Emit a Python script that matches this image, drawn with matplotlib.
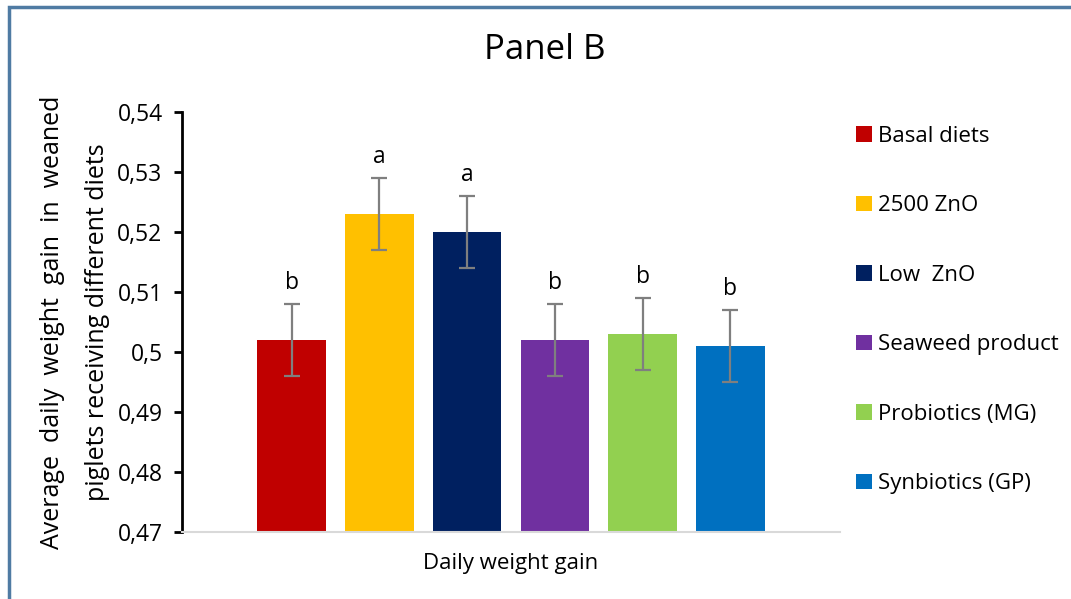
import matplotlib.pyplot as plt
from matplotlib.patches import Rectangle

plt.rcParams['font.family'] = ['Open Sans', 'DejaVu Sans']

groups = ["Basal diets", "2500 ZnO", "Low  ZnO", "Seaweed product", "Probiotics (MG)", "Synbiotics (GP)"]
means = [0.502, 0.523, 0.520, 0.502, 0.503, 0.501]
errors = [0.006, 0.006, 0.006, 0.006, 0.006, 0.006]
letters = ["b", "a", "a", "b", "b", "b"]
colors = ["#c00000", "#ffc000", "#002060", "#7030a0", "#92d050", "#0070c0"]
yticks = [0.47, 0.48, 0.49, 0.50, 0.51, 0.52, 0.53, 0.54]
ytick_labels = ["0,47", "0,48", "0,49", "0,5", "0,51", "0,52", "0,53", "0,54"]

W, H = 1071, 599
fig = plt.figure(figsize=(W / 100, H / 100), dpi=100)
ax = fig.add_axes([182 / W, 1 - 532 / H, (840 - 182) / W, (532 - 112) / H])

x = list(range(len(groups)))
bars = ax.bar(x, [m - 0.47 for m in means], bottom=0.47, width=0.78, color=colors,
              label=groups, zorder=2)
ax.errorbar(x, means, yerr=errors, fmt="none", ecolor="#7f7f7f", elinewidth=1.6,
            capsize=6, capthick=1.6, zorder=3)
for xi, m, e, t in zip(x, means, errors, letters):
    ax.text(xi, m + e + 0.0015, t, ha="center", va="bottom", fontsize=16.5)

ax.set_xlim(-1.25, 6.25)
ax.set_ylim(0.47, 0.54)
ax.set_yticks(yticks)
ax.set_yticklabels(ytick_labels, fontsize=16.5)
ax.set_xticks([])
for s in ["top", "right"]:
    ax.spines[s].set_visible(False)
ax.spines["left"].set_linewidth(2)
ax.spines["left"].set_color("black")
ax.spines["bottom"].set_color("#d9d9d9")
ax.spines["bottom"].set_linewidth(1.5)
ax.tick_params(axis="y", direction="out", length=6, width=2, pad=8)

ax.set_xlabel("Daily weight gain", fontsize=16, labelpad=15)
fig.text(75 / W, 1 - 322 / H, "Average  daily  weight  gain  in  weaned\npiglets receiving different diets",
         rotation=90, ha="center", va="center", fontsize=18, linespacing=2.1)
fig.text(545 / W, 1 - 50 / H, "Panel B", ha="center", va="center", fontsize=25)

fig.legend(handles=bars.patches, labels=groups, loc="upper left",
           bbox_to_anchor=(836 / W, 1 - 106 / H), frameon=False, fontsize=16,
           labelspacing=2.18, handlelength=0.7, handleheight=0.7, handletextpad=0.3)

fig.add_artist(Rectangle((9 / W, -0.1), 1.2, 1 - 7 / H + 0.1, transform=fig.transFigure,
                         fill=False, edgecolor="#4f7ba3", linewidth=2.5))

fig.savefig("out.png", dpi=100)
